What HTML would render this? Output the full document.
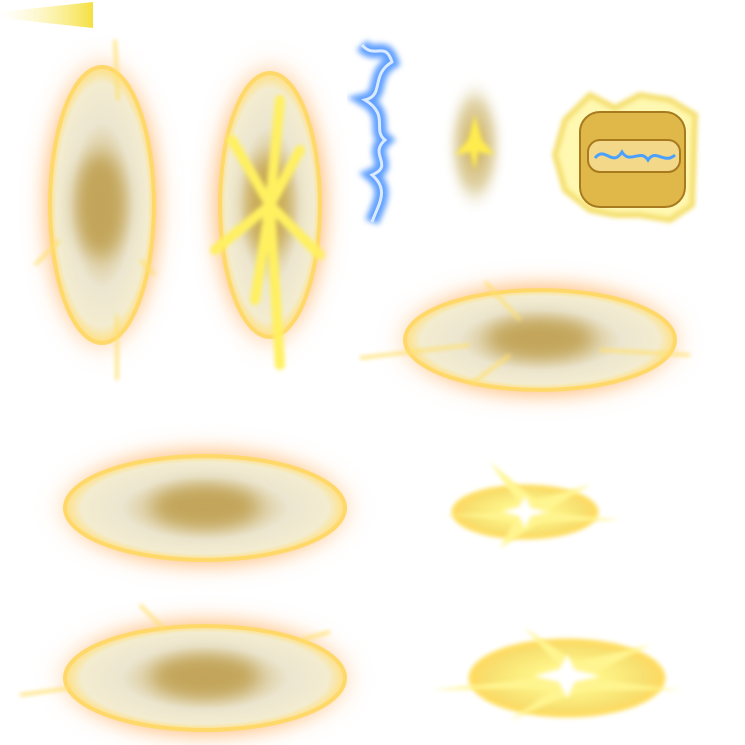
<!DOCTYPE html>
<html><head><meta charset="utf-8"><style>
html,body{margin:0;padding:0;background:#fff;width:745px;height:745px;overflow:hidden}
svg{display:block}
</style></head><body>
<svg width="745" height="745" viewBox="0 0 745 745">
<defs>
<filter id="blur8" x="-50%" y="-50%" width="200%" height="200%"><feGaussianBlur stdDeviation="9"/></filter>
<filter id="blur4" x="-50%" y="-50%" width="200%" height="200%"><feGaussianBlur stdDeviation="4"/></filter>
<filter id="blur2" x="-50%" y="-50%" width="200%" height="200%"><feGaussianBlur stdDeviation="2"/></filter>
<filter id="blueglow" x="-50%" y="-50%" width="200%" height="200%"><feGaussianBlur stdDeviation="3"/></filter>
<radialGradient id="disc" cx="50%" cy="50%" r="50%">
<stop offset="0" stop-color="#c8ac64"/><stop offset="0.3" stop-color="#d6c38e"/><stop offset="0.6" stop-color="#ece6d0"/><stop offset="0.88" stop-color="#f3ecd0"/><stop offset="1" stop-color="#ffe080"/>
</radialGradient>
<radialGradient id="glow" cx="50%" cy="50%" r="50%">
<stop offset="0.75" stop-color="#ffa850" stop-opacity="0.75"/><stop offset="1" stop-color="#ffc080" stop-opacity="0"/>
</radialGradient>
<radialGradient id="orb" cx="50%" cy="50%" r="50%">
<stop offset="0" stop-color="#c9a850"/><stop offset="0.6" stop-color="#d9c890" stop-opacity="0.8"/><stop offset="1" stop-color="#fff" stop-opacity="0"/>
</radialGradient>
<radialGradient id="bright" cx="50%" cy="50%" r="50%">
<stop offset="0" stop-color="#fff"/><stop offset="0.3" stop-color="#fff68a"/><stop offset="0.8" stop-color="#f7e070"/><stop offset="1" stop-color="#ffd860"/>
</radialGradient>
<linearGradient id="streak" x1="0" x2="1"><stop offset="0" stop-color="#fff6b0" stop-opacity="0"/><stop offset="1" stop-color="#f5e040"/></linearGradient>
</defs>

<path d="M0,12 L93,2 L93,28 L0,18Z" fill="url(#streak)"/>

<g>
<ellipse cx="102" cy="205" rx="66" ry="155" fill="url(#glow)" filter="url(#blur8)"/>
<ellipse cx="102" cy="205" rx="52" ry="138" fill="url(#disc)" stroke="#ffd86a" stroke-width="4"/>
<ellipse cx="100" cy="205" rx="24" ry="50" fill="#c2a55a" filter="url(#blur8)"/>
<path d="M115,40 L118,100 M117,315 L117,380 M35,265 L60,240 M140,260 L155,275" stroke="#ffe070" stroke-width="3" filter="url(#blur2)"/>
</g>

<g>
<ellipse cx="270" cy="205" rx="64" ry="150" fill="url(#glow)" filter="url(#blur8)"/>
<ellipse cx="270" cy="205" rx="50" ry="132" fill="url(#disc)" stroke="#ffd86a" stroke-width="4"/>
<ellipse cx="268" cy="205" rx="22" ry="48" fill="#c9aa55" filter="url(#blur8)"/>
<path d="M270,205 L232,140 M270,205 L280,100 M270,205 L300,150 M270,205 L215,250 M270,205 L320,255 M270,205 L280,365 M270,205 L255,300" stroke="#fff060" stroke-width="10" stroke-linecap="round" filter="url(#blur2)"/>
</g>

<g>
<path d="M362,45 C375,60 385,40 392,62 C370,75 385,95 365,100 C390,115 372,130 385,140 C368,155 395,165 372,175 C390,190 378,205 372,222" stroke="#60a0ff" stroke-width="14" fill="none" filter="url(#blueglow)"/>
<path d="M362,45 C375,60 385,40 392,62 C370,75 385,95 365,100 C390,115 372,130 385,140 C368,155 395,165 372,175 C390,190 378,205 372,222" stroke="#dbeaff" stroke-width="3" fill="none"/>
</g>

<g>
<ellipse cx="475" cy="145" rx="30" ry="70" fill="url(#orb)" filter="url(#blur4)"/>
<path d="M475,115 L482,140 L495,155 L478,152 L475,170 L470,152 L455,155 L468,140Z" fill="#ffec50" filter="url(#blur2)"/>
</g>

<g>
<path d="M565,120 L590,95 L615,108 L640,95 L670,100 L695,115 L692,205 L670,220 L640,215 L615,215 L590,210 L565,190 L555,155Z" fill="#fff8b0" stroke="#f5e070" stroke-width="6" filter="url(#blur2)"/>
<rect x="580" y="112" width="105" height="95" rx="20" fill="#e0b84a" stroke="#a77a20" stroke-width="2"/>
<rect x="588" y="140" width="92" height="32" rx="12" fill="#f2d888" stroke="#a77a20" stroke-width="2"/>
<path d="M595,158 C605,145 612,168 622,152 C630,165 640,148 648,160 C656,148 664,165 675,155" stroke="#4aa0ff" stroke-width="3" fill="none"/>
</g>

<g>
<ellipse cx="540" cy="340" rx="150" ry="64" fill="url(#glow)" filter="url(#blur8)"/>
<ellipse cx="540" cy="340" rx="135" ry="50" fill="url(#disc)" stroke="#ffd86a" stroke-width="4"/>
<ellipse cx="540" cy="338" rx="52" ry="18" fill="#c2a55a" filter="url(#blur8)"/>
<path d="M360,358 L470,345 M600,350 L690,355 M485,282 L520,320 M470,385 L510,355" stroke="#ffe070" stroke-width="3" filter="url(#blur2)"/>
</g>

<g>
<ellipse cx="205" cy="508" rx="155" ry="66" fill="url(#glow)" filter="url(#blur8)"/>
<ellipse cx="205" cy="508" rx="140" ry="52" fill="url(#disc)" stroke="#ffd86a" stroke-width="4"/>
<ellipse cx="205" cy="506" rx="52" ry="20" fill="#c2a55a" filter="url(#blur8)"/>
</g>

<g>
<ellipse cx="525" cy="512" rx="72" ry="26" fill="url(#bright)" stroke="#ffe060" stroke-width="3" filter="url(#blur2)"/>
<path d="M525,512 L490,462 L535,500 L590,485 L545,512 L620,520 L540,522 L500,548 L515,520 L445,515Z" fill="#fff590" filter="url(#blur2)"/>
<path d="M525,496 L531,508 L548,512 L531,516 L525,528 L519,516 L502,512 L519,508Z" fill="#fff" filter="url(#blur2)"/>
</g>

<g>
<ellipse cx="205" cy="678" rx="155" ry="66" fill="url(#glow)" filter="url(#blur8)"/>
<ellipse cx="205" cy="678" rx="140" ry="52" fill="url(#disc)" stroke="#ffd86a" stroke-width="4"/>
<ellipse cx="205" cy="676" rx="52" ry="20" fill="#c2a55a" filter="url(#blur8)"/>
<path d="M140,605 L165,630 M20,695 L70,688 M300,640 L330,632" stroke="#ffe070" stroke-width="3" filter="url(#blur2)"/>
</g>

<g>
<ellipse cx="567" cy="678" rx="97" ry="38" fill="url(#bright)" stroke="#ffe060" stroke-width="3" filter="url(#blur2)"/>
<path d="M567,675 L525,628 L575,662 L650,645 L585,678 L680,690 L580,690 L510,720 L555,688 L432,690Z" fill="#fff590" filter="url(#blur2)"/>
<path d="M567,655 L575,670 L600,676 L575,682 L567,698 L559,682 L534,676 L559,670Z" fill="#fff" filter="url(#blur2)"/>
</g>
</svg>
</body></html>
